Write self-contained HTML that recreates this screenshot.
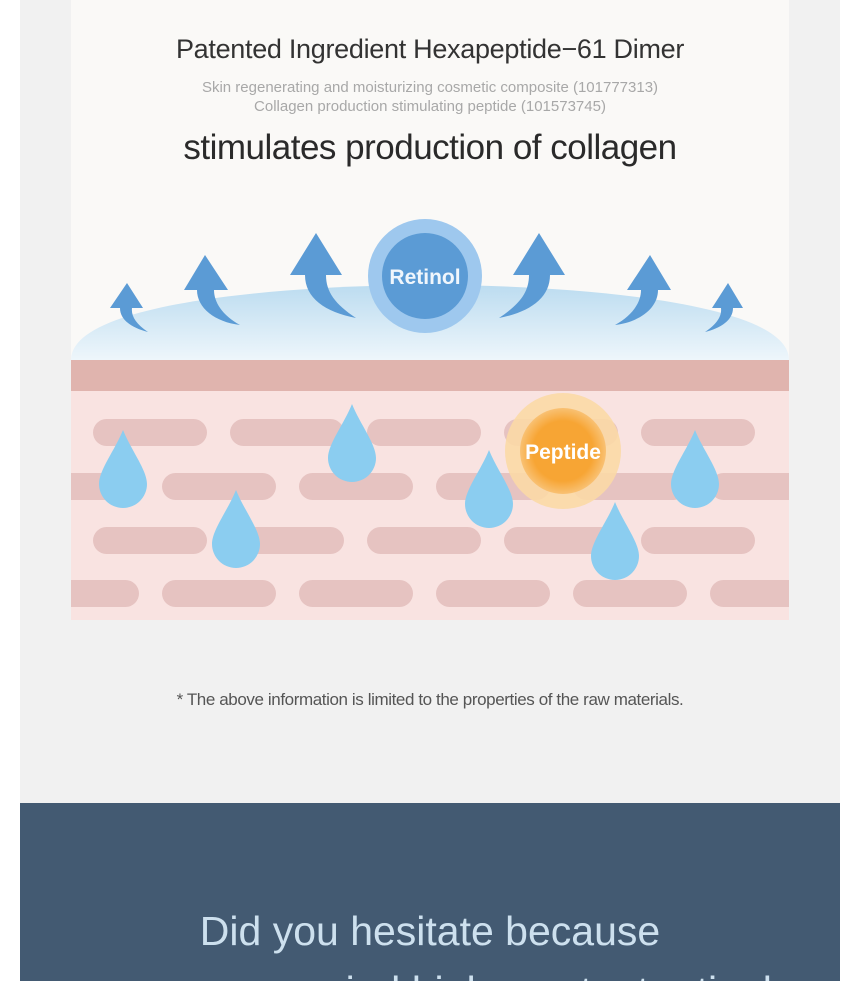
<!DOCTYPE html>
<html><head><meta charset="utf-8"><style>
html,body{margin:0;padding:0;background:#fff;}
body{width:860px;height:981px;overflow:hidden;position:relative;font-family:"Liberation Sans",sans-serif;}
.col{position:absolute;left:20px;top:0;width:820px;height:803px;background:#f1f1f1;}
.panel{position:absolute;left:71px;top:0;width:718px;height:620px;background:#faf9f7;}
.t{position:absolute;left:0;width:860px;text-align:center;}
.dark{position:absolute;left:20px;top:803px;width:820px;height:178px;background:#435a72;overflow:hidden;}
</style></head><body>
<div class="col"></div>
<div class="panel"></div>
<div class="t" style="top:34px;font-size:27px;color:#333;letter-spacing:-0.3px;">Patented Ingredient Hexapeptide−61 Dimer</div>
<div class="t" style="top:78px;font-size:15px;color:#a8a8a8;line-height:19px;">Skin regenerating and moisturizing cosmetic composite (101777313)<br>Collagen production stimulating peptide (101573745)</div>
<div class="t" style="top:128px;font-size:35px;color:#2a2a2a;letter-spacing:-0.5px;">stimulates production of collagen</div>
<svg style="position:absolute;left:0;top:0" width="860" height="640">
<defs>
<linearGradient id="dome" x1="0" y1="0" x2="0" y2="1"><stop offset="0" stop-color="#bcdcf0"/><stop offset="1" stop-color="#eef6fb"/></linearGradient>
<radialGradient id="pep"><stop offset="0.7" stop-color="#f7a534"/><stop offset="1" stop-color="#f9c173"/></radialGradient>
<g id="pill"><rect width="114" height="27" rx="13.5" fill="#e6c3c1"/></g>
<path id="drop" d="M0,-40 C8,-20 24,0 24,14 A24,24 0 0 1 -24,14 C-24,0 -8,-20 0,-40Z" fill="#8bcdf0"/>
</defs>
<clipPath id="cl"><rect x="71" y="0" width="718" height="640"/></clipPath>
<g clip-path="url(#cl)">
<path d="M71,360 C71,300 300,285 430,285 C560,285 789,300 789,360Z" fill="url(#dome)"/>
<rect x="71" y="360" width="718" height="31" fill="#e0b4ae"/>
<rect x="71" y="391" width="718" height="229" fill="#f9e3e1"/>
<g>
<use href="#pill" x="93" y="419"/><use href="#pill" x="230" y="419"/><use href="#pill" x="367" y="419"/><use href="#pill" x="504" y="419"/><use href="#pill" x="641" y="419"/>
<use href="#pill" x="25" y="473"/><use href="#pill" x="162" y="473"/><use href="#pill" x="299" y="473"/><use href="#pill" x="436" y="473"/><use href="#pill" x="573" y="473"/><use href="#pill" x="710" y="473"/>
<use href="#pill" x="93" y="527"/><use href="#pill" x="230" y="527"/><use href="#pill" x="367" y="527"/><use href="#pill" x="504" y="527"/><use href="#pill" x="641" y="527"/>
<use href="#pill" x="25" y="580"/><use href="#pill" x="162" y="580"/><use href="#pill" x="299" y="580"/><use href="#pill" x="436" y="580"/><use href="#pill" x="573" y="580"/><use href="#pill" x="710" y="580"/>
</g>
</g>
<g fill="#5b9bd5">
<path d="M127,283 L110,308 L120,308 C120,320 132,328 148,332 C136,324 131,316 132,308 L143,308Z"/>
<path d="M205,255 L184,290 L197,290 C197,308 215,322 240,325 C222,315 214,302 214,290 L228,290Z"/>
<path d="M316,233 L290,275 L305,275 C305,298 325,312 356,318 C335,304 326,292 326,275 L342,275Z"/>
<path d="M539,233 L565,275 L550,275 C550,298 530,312 499,318 C520,304 529,292 529,275 L513,275Z"/>
<path d="M650,255 L671,290 L658,290 C658,308 640,322 615,325 C633,315 641,302 641,290 L627,290Z"/>
<path d="M728,283 L743,308 L733,308 C733,320 721,328 705,332 C717,324 722,316 721,308 L712,308Z"/>
</g>
<circle cx="425" cy="276" r="57" fill="#9ec8ee"/>
<circle cx="425" cy="276" r="43" fill="#5b9bd5"/>
<text x="425" y="284" text-anchor="middle" font-family="Liberation Sans" font-size="21" font-weight="bold" fill="#f0f6fc">Retinol</text>
<circle cx="563" cy="451" r="58" fill="#fbd9a6" opacity="0.9"/>
<circle cx="563" cy="451" r="43" fill="url(#pep)"/>
<text x="563" y="459" text-anchor="middle" font-family="Liberation Sans" font-size="21" font-weight="bold" fill="#fff">Peptide</text>
<use href="#drop" x="123" y="470"/>
<use href="#drop" x="236" y="530"/>
<use href="#drop" x="352" y="444"/>
<use href="#drop" x="489" y="490"/>
<use href="#drop" x="615" y="542"/>
<use href="#drop" x="695" y="470"/>
</svg>
<div class="t" style="top:690px;font-size:17px;color:#555;letter-spacing:-0.4px;">* The above information is limited to the properties of the raw materials.</div>
<div class="dark">
<div style="position:absolute;left:0;width:820px;top:98px;text-align:center;font-size:41px;color:#cde0ee;line-height:60px;">Did you hesitate because<br>you were worried high- content retinol</div>
</div>
</body></html>
